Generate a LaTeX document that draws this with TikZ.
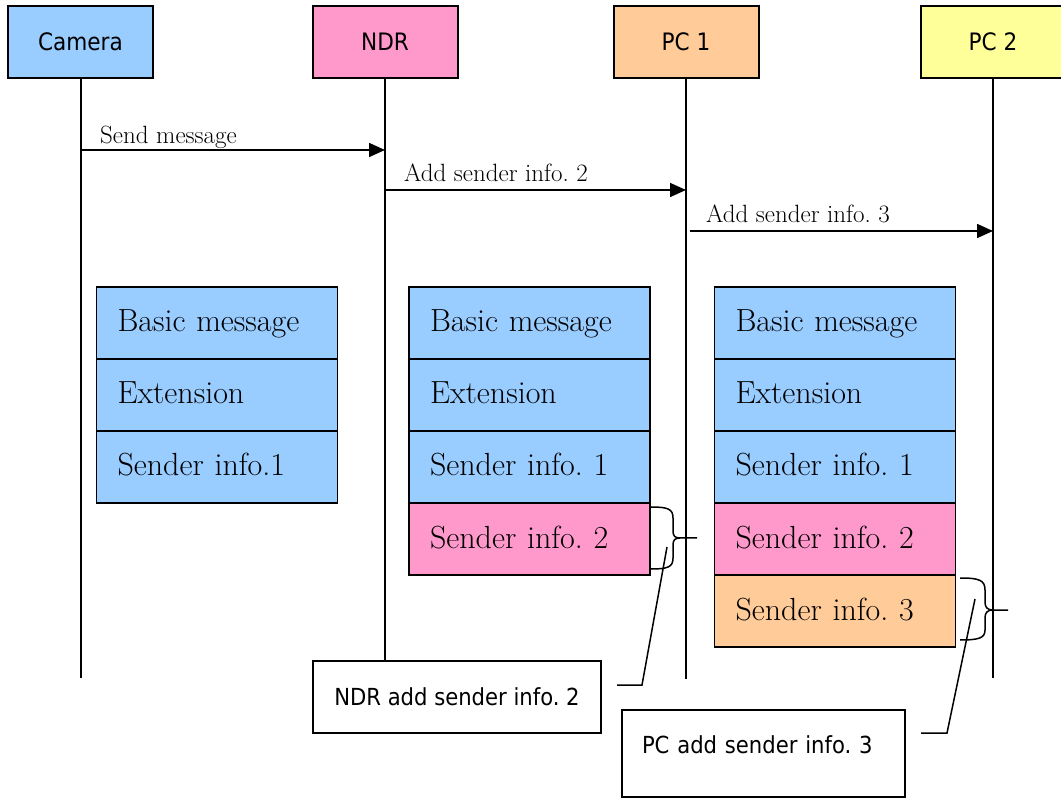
\documentclass[tikz,border=0pt]{standalone}
\usepackage{fontspec}
\newfontfamily\labelsans{DejaVu Sans Condensed}
\usetikzlibrary{arrows.meta}
\definecolor{msgblue}{HTML}{99CCFF}
\definecolor{msgpink}{HTML}{FF99CC}
\definecolor{msgorange}{HTML}{FFCC99}
\definecolor{msgyellow}{HTML}{FFFF99}
\frenchspacing
\tikzset{
  actor/.style={draw, line width=2pt, minimum width=145pt, minimum height=72pt,
    inner sep=0pt, font=\labelsans\fontsize{24}{28}\selectfont},
  life/.style={line width=2pt},
  msg/.style={line width=1.6pt, -{Triangle[length=16pt,width=14pt]}},
  msglabel/.style={anchor=base west, inner sep=0pt, font=\fontsize{25}{30}\selectfont},
  row/.style={draw, line width=1.8pt, outer sep=0pt, minimum width=241pt, minimum height=72pt,
    inner xsep=21pt, inner ysep=0pt, text width=199pt, align=left,
    text height=22pt, text depth=4pt, font=\fontsize{32}{38}\selectfont},
  note/.style={draw, line width=1.8pt, fill=white, inner sep=0pt,
    font=\labelsans\fontsize{23.5}{28}\selectfont},
  brace/.style={line width=1.5pt},
  lead/.style={line width=1.5pt},
}
\begin{document}
\begin{tikzpicture}[x=1pt,y=-1pt]
\useasboundingbox (0,0) rectangle (1061,799);

% participants
\node[actor, fill=msgblue]   (cam) at (80.5,42) {Camera};
\node[actor, fill=msgpink]   (ndr) at (385,42)  {NDR};
\node[actor, fill=msgorange] (pc1) at (686,42)  {PC 1};
\node[actor, fill=msgyellow] (pc2) at (993,42)  {PC 2};

% annotation boxes
\node[note, minimum width=288pt, minimum height=72pt] (n1) at (457,697) {NDR add sender info. 2};
\node[note, minimum width=283pt, minimum height=87pt, inner xsep=20pt,
      text width=243pt, align=left, text height=18pt, text depth=18pt] (n2) at (763.5,753.5)
      {PC add sender info. 3};

% lifelines
\coordinate (camEnd) at (80.5,678);
\coordinate (pc1End) at (686,679);
\coordinate (pc2End) at (993,678);
\draw[life] (cam.south) -- (camEnd);
\draw[life] (ndr.south) -- (ndr.south |- n1.north);
\draw[life] (pc1.south) -- (pc1End);
\draw[life] (pc2.south) -- (pc2End);

% messages
\coordinate (m1) at (0,150);
\coordinate (m2) at (0,190);
\coordinate (m3) at (0,231);
\draw[msg] (cam.south |- m1) -- (ndr.south |- m1);
\draw[msg] (ndr.south |- m2) -- (pc1.south |- m2);
\draw[msg] ([xshift=4pt]pc1.south |- m3) -- (pc2.south |- m3);
\node[msglabel] (l1) at (100,144) {Send message};
\node[msglabel] (l2) at (404,182) {Add sender info. 2};
\node[msglabel] (l3) at (706,223) {Add sender info. 3};

% message layout at the camera
\node[row, fill=msgblue] (a1) at (217,323) {Basic message};
\node[row, fill=msgblue, anchor=north] (a2) at (a1.south) {Extension};
\node[row, fill=msgblue, anchor=north] (a3) at (a2.south) {Sender info.1};

% message layout at the NDR
\node[row, fill=msgblue] (b1) at (529.5,323) {Basic message};
\node[row, fill=msgblue, anchor=north] (b2) at (b1.south) {Extension};
\node[row, fill=msgblue, anchor=north] (b3) at (b2.south) {Sender info. 1};
\node[row, fill=msgpink, anchor=north] (b4) at (b3.south) {Sender info. 2};

% message layout at PC 1
\node[row, fill=msgblue] (c1) at (835,323) {Basic message};
\node[row, fill=msgblue, anchor=north] (c2) at (c1.south) {Extension};
\node[row, fill=msgblue, anchor=north] (c3) at (c2.south) {Sender info. 1};
\node[row, fill=msgpink, anchor=north] (c4) at (c3.south) {Sender info. 2};
\node[row, fill=msgorange, anchor=north] (c5) at (c4.south) {Sender info. 3};

% braces
\draw[brace] (651,507) .. controls (668,507) and (673,509) .. (673,518) -- (673,531)
  .. controls (673,536) and (675,538) .. (680,538) -- (697,538);
\draw[brace] (680,538) .. controls (675,538) and (673,540) .. (673,545) -- (673,558)
  .. controls (673,567) and (668,569) .. (651,569);
\draw[brace] (960,578) .. controls (979,578) and (985,580) .. (985,590) -- (985,602)
  .. controls (985,607) and (987,610) .. (993,610) -- (1008,610);
\draw[brace] (993,610) .. controls (987,610) and (985,613) .. (985,618) -- (985,630)
  .. controls (985,638) and (979,640) .. (960,640);

% leader lines to the annotation boxes
\coordinate (p1) at (667,547);
\coordinate (k1) at (642,685);
\coordinate (e1) at (617,685);
\draw[lead] (p1) -- (k1) -- (e1);
\coordinate (p2) at (975,599);
\coordinate (k2) at (947,733);
\coordinate (e2) at (921,733);
\draw[lead] (p2) -- (k2) -- (e2);
\end{tikzpicture}
\end{document}
